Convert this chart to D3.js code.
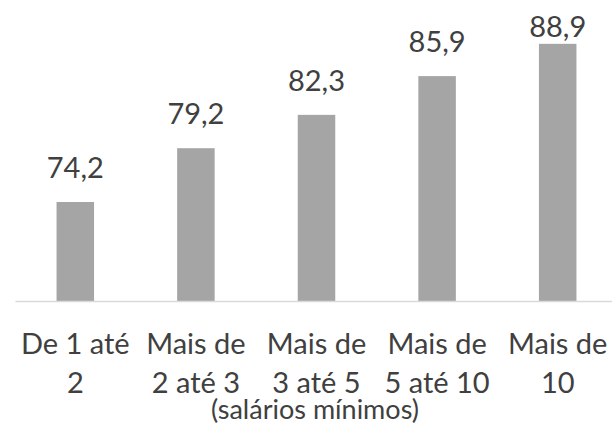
<!DOCTYPE html>
<html>
<head>
<meta charset="utf-8">
<script src="https://cdn.jsdelivr.net/npm/d3@7"></script>
<style>
  body { margin: 0; background: #fff; }
  text { font-family: "Lato", "Open Sans", sans-serif; fill: #404040; }
</style>
</head>
<body>
<div id="chart"></div>
<script>
let width = 612;
let height = 426;

// faixas de renda (quebra de linha com "|")
let categories = ["De 1 até|2", "Mais de|2 até 3", "Mais de|3 até 5", "Mais de|5 até 10", "Mais de|10"];
let values = [74.2, 79.2, 82.3, 85.9, 88.9];
let valueLabels = ["74,2", "79,2", "82,3", "85,9", "88,9"];
let yDomain = [65, 90];
let axisNote = "(salários mínimos)";

let svg = d3.select("#chart")
    .append("svg")
    .attr("width", width)
    .attr("height", height);

let x = d3.scaleBand()
    .domain(categories)
    .range([15, 618])
    .paddingInner(0.689)
    .paddingOuter(0.3445);

let y = d3.scaleLinear()
    .domain(yDomain)
    .range([301, 32]);

// barras
svg.selectAll(".bar")
    .data(values)
    .enter()
    .append("rect")
    .attr("class", "bar")
    .attr("x", function (d, i) { return x(categories[i]); })
    .attr("y", function (d) { return y(d); })
    .attr("width", x.bandwidth())
    .attr("height", function (d) { return y(yDomain[0]) - y(d); })
    .attr("fill", "#a5a5a5");

// rótulos de valor (presos dentro da área do gráfico, como no Excel)
svg.selectAll(".val")
    .data(values)
    .enter()
    .append("text")
    .attr("class", "val")
    .attr("x", function (d, i) { return x(categories[i]) + x.bandwidth() / 2; })
    .attr("y", function (d) { return Math.max(y(d) - 24, 37); })
    .attr("text-anchor", "middle")
    .style("font-size", "29px")
    .text(function (d, i) { return valueLabels[i]; });

// eixo x
let axis = svg.append("g")
    .attr("transform", "translate(0," + y(yDomain[0]) + ")")
    .call(d3.axisBottom(x).tickSize(0).tickPadding(0));

axis.select(".domain")
    .attr("stroke", "#d9d9d9")
    .attr("stroke-width", 1.5);

axis.selectAll(".tick text")
    .attr("y", 0)
    .attr("dy", null)
    .style("font-size", "29px")
    .style("font-family", null)
    .attr("fill", null)
    .text(null)
    .each(function (d) {
        let t = d3.select(this);
        d.split("|").forEach(function (line, k) {
            t.append("tspan")
                .attr("x", 0)
                .attr("y", 53 + k * 39)
                .text(line);
        });
    });

svg.append("text")
    .attr("x", 315)
    .attr("y", 419)
    .attr("text-anchor", "middle")
    .style("font-size", "27px")
    .text(axisNote);
</script>
</body>
</html>
